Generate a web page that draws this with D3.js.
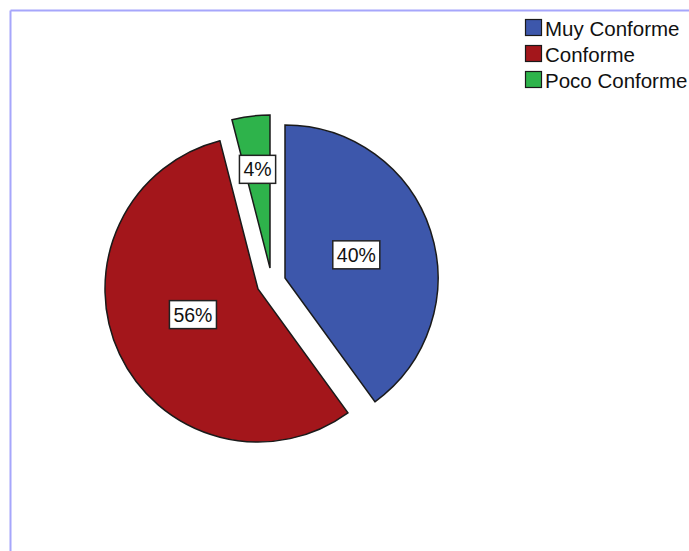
<!DOCTYPE html>
<html><head><meta charset="utf-8">
<script src="https://cdn.jsdelivr.net/npm/d3@7/dist/d3.min.js"></script>
<style>html,body{margin:0;padding:0;background:#fff;overflow:hidden}</style>
</head><body>
<script>
const categories = ["Muy Conforme", "Conforme", "Poco Conforme"];
const values = [40, 56, 4];
const labels = ["40%", "56%", "4%"];
const colors = ["#3d57ab", "#a3161b", "#2eb34b"];
// layout constants
const explode = [[15, -2], [-12, 9], [0, -12]];
const labelFactor = [0.49, 0.47, 0.65];

const W = 689, H = 551;
const svg = d3.select("body").append("svg").attr("width", W).attr("height", H);

// frame
svg.append("line").attr("x1", 10.5).attr("y1", 10.5).attr("x2", W).attr("y2", 10.5)
  .attr("stroke", "#a6a6fb").attr("stroke-width", 2);
svg.append("line").attr("x1", 10.5).attr("y1", 10.5).attr("x2", 10.5).attr("y2", H)
  .attr("stroke", "#a6a6fb").attr("stroke-width", 2);

const cx = 270, cy = 280, r = 153;
const pie = d3.pie().sort(null).value(d => d).startAngle(0).endAngle(2 * Math.PI);
const arcs = pie(values);
const arc = d3.arc().innerRadius(0).outerRadius(r);

const g = svg.append("g").attr("transform", `translate(${cx},${cy})`);
const slices = g.selectAll("g.slice").data(arcs).enter().append("g")
  .attr("transform", (d, i) => `translate(${explode[i][0]},${explode[i][1]})`);
slices.append("path").attr("d", arc)
  .attr("fill", (d, i) => colors[i])
  .attr("stroke", "#1a1a1a").attr("stroke-width", 1.5).attr("stroke-linejoin", "miter");

// labels
slices.each(function (d, i) {
  const a = (d.startAngle + d.endAngle) / 2;
  const lr = r * labelFactor[i];
  const x = Math.sin(a) * lr, y = -Math.cos(a) * lr - (i === 1 ? 5 : 0);
  const sel = d3.select(this);
  const t = sel.append("text").attr("x", x).attr("y", y)
    .attr("text-anchor", "middle").attr("dominant-baseline", "central")
    .attr("font-family", "Liberation Sans, Arial, sans-serif").attr("font-size", 19.5)
    .attr("fill", "#111").text(labels[i]);
  const bb = t.node().getBBox();
  sel.insert("rect", "text")
    .attr("x", bb.x - 4).attr("y", bb.y - 3).attr("width", bb.width + 8).attr("height", bb.height + 6)
    .attr("fill", "#fff").attr("stroke", "#222").attr("stroke-width", 1.5);
});

// legend
const lg = svg.append("g").attr("transform", "translate(525,19)");
const items = lg.selectAll("g").data(categories).enter().append("g")
  .attr("transform", (d, i) => `translate(0,${i * 26})`);
items.append("rect").attr("x", 0.5).attr("y", 0.5).attr("width", 16).attr("height", 16)
  .attr("fill", (d, i) => colors[i]).attr("stroke", "#1a1a1a").attr("stroke-width", 1.2);
items.append("text").attr("x", 20).attr("y", 9).attr("dominant-baseline", "central")
  .attr("font-family", "Liberation Sans, Arial, sans-serif").attr("font-size", 20.5)
  .attr("fill", "#111").text(d => d);
</script>
</body></html>
